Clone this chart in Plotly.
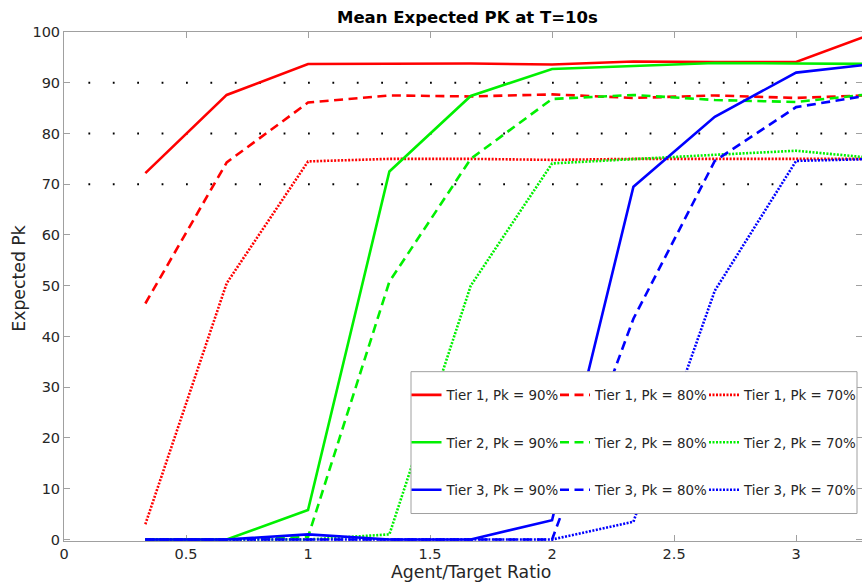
import plotly.graph_objects as go

# ---- data ----
x_ratio = [1/3, 2/3, 1, 4/3, 5/3, 2, 7/3, 8/3, 3, 10/3]

tier1_pk90 = [72.2, 87.6, 93.7, 93.8, 93.8, 93.6, 94.2, 94.1, 94.1, 100.0]
tier1_pk80 = [46.5, 74.3, 86.1, 87.5, 87.3, 87.7, 87.0, 87.5, 87.0, 87.6]
tier1_pk70 = [3.0, 50.5, 74.5, 75.0, 75.0, 74.8, 75.0, 75.0, 75.0, 75.0]

tier2_pk90 = [0.0, 0.0, 5.8, 72.5, 87.4, 92.7, 93.3, 93.9, 93.8, 93.7]
tier2_pk80 = [0.0, 0.0, 0.5, 50.8, 75.0, 86.8, 87.6, 86.6, 86.2, 87.9]
tier2_pk70 = [0.0, 0.0, 0.0, 1.0, 50.0, 74.1, 75.0, 75.8, 76.6, 75.1]

tier3_pk90 = [0.0, 0.0, 1.0, 0.0, 0.0, 3.8, 69.5, 83.3, 92.0, 93.8]
tier3_pk80 = [0.0, 0.0, 0.0, 0.0, 0.0, 0.0, 43.5, 74.6, 85.2, 87.8]
tier3_pk70 = [0.0, 0.0, 0.0, 0.0, 0.0, 0.0, 3.5, 49.0, 74.6, 75.0]

target_levels = [70, 80, 90]

x_tick_vals = [0, 0.5, 1, 1.5, 2, 2.5, 3]
x_tick_text = ["0", "0.5", "1", "1.5", "2", "2.5", "3"]
y_tick_vals = [0, 10, 20, 30, 40, 50, 60, 70, 80, 90, 100]

series = [
    ("Tier 1, Pk = 90%", tier1_pk90, "#ff0000", "solid", "legend"),
    ("Tier 1, Pk = 80%", tier1_pk80, "#ff0000", "9px,5.5px", "legend2"),
    ("Tier 1, Pk = 70%", tier1_pk70, "#ff0000", "2px,1.5px", "legend3"),
    ("Tier 2, Pk = 90%", tier2_pk90, "#00f000", "solid", "legend"),
    ("Tier 2, Pk = 80%", tier2_pk80, "#00f000", "9px,5.5px", "legend2"),
    ("Tier 2, Pk = 70%", tier2_pk70, "#00f000", "2px,1.5px", "legend3"),
    ("Tier 3, Pk = 90%", tier3_pk90, "#0000ff", "solid", "legend"),
    ("Tier 3, Pk = 80%", tier3_pk80, "#0000ff", "9px,5.5px", "legend2"),
    ("Tier 3, Pk = 70%", tier3_pk70, "#0000ff", "2px,1.5px", "legend3"),
]

FONT = "DejaVu Sans"
TXT = "#262626"

FIG_W, FIG_H = 862, 583
PLOT_L, PLOT_R = 64, 862
PLOT_T, PLOT_B = 32, 541.5


def px_x(p):
    return (p - PLOT_L) / (PLOT_R - PLOT_L)


def px_y(p):
    return (PLOT_B - p) / (PLOT_B - PLOT_T)


fig = go.Figure()

for name, vals, color, dash, leg in series:
    fig.add_trace(go.Scatter(
        x=x_ratio, y=vals, name=name, mode="lines",
        line=dict(color=color, width=2.6, dash=dash),
        legend=leg, legendgroup=name, hoverinfo="skip",
    ))

# black dotted target lines
for lvl in target_levels:
    fig.add_shape(type="line", xref="x", yref="y", x0=0.1, x1=3.3, y0=lvl, y1=lvl,
                  line=dict(color="black", width=1.8, dash="1.8px,22.6px"), layer="below")

# legend box
fig.add_shape(type="rect", xref="paper", yref="paper",
              x0=px_x(411), x1=px_x(857), y0=px_y(514), y1=px_y(372),
              line=dict(color="#a0a0a0", width=1), fillcolor="white", layer="above")

leg_common = dict(
    bgcolor="rgba(0,0,0,0)", borderwidth=0, tracegroupgap=27,
    font=dict(family=FONT, size=13.4, color=TXT),
    xanchor="left", yanchor="top", itemwidth=30,
)
col_x = [406.5, 555.0, 704.0]
leg_top = 380
fig.update_layout(
    legend=dict(x=px_x(col_x[0]), y=px_y(leg_top), **leg_common),
    legend2=dict(x=px_x(col_x[1]), y=px_y(leg_top), **leg_common),
    legend3=dict(x=px_x(col_x[2]), y=px_y(leg_top), **leg_common),
)

axis_common = dict(
    showline=True, linecolor="#a0a0a0", linewidth=1, mirror="ticks",
    ticks="inside", ticklen=6, tickcolor="#a0a0a0", tickwidth=1,
    showgrid=False, zeroline=False, layer="below traces",
    tickfont=dict(family=FONT, size=14.5, color=TXT),
)

fig.update_layout(
    width=FIG_W, height=FIG_H,
    margin=dict(l=PLOT_L, r=FIG_W - PLOT_R, t=PLOT_T, b=FIG_H - PLOT_B, autoexpand=False),
    paper_bgcolor="white", plot_bgcolor="white",
    hovermode=False,
    xaxis=dict(range=[0, 3.27], tickvals=x_tick_vals, ticktext=x_tick_text, **axis_common),
    yaxis=dict(range=[-0.3, 100], tickvals=y_tick_vals, **axis_common),
    showlegend=True,
    annotations=[
        dict(text="<b>Mean Expected PK at T=10s</b>", xref="paper", yref="paper",
             x=px_x(467), y=px_y(17), xanchor="center", yanchor="middle", showarrow=False,
             font=dict(family=FONT, size=16.5, color="black")),
        dict(text="Agent/Target Ratio", xref="paper", yref="paper",
             x=px_x(471), y=px_y(573), xanchor="center", yanchor="middle", showarrow=False,
             font=dict(family=FONT, size=17.3, color=TXT)),
        dict(text="Expected Pk", xref="paper", yref="paper", textangle=-90,
             x=px_x(19), y=px_y(279), xanchor="center", yanchor="middle", showarrow=False,
             font=dict(family=FONT, size=17.3, color=TXT)),
    ],
)

fig.write_html(
    "out.html",
    config={"displayModeBar": False},
    post_script="document.body.style.margin='0';document.body.style.overflow='hidden';",
)
